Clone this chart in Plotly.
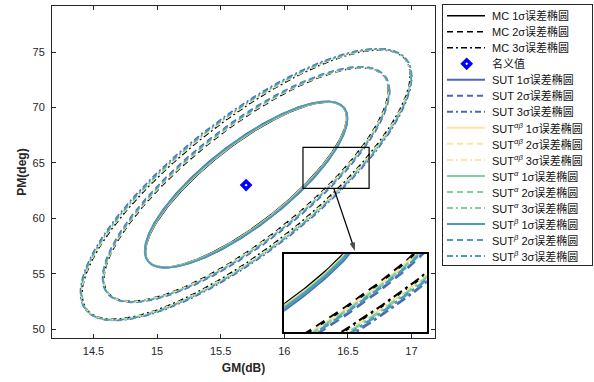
import numpy as np
import plotly.graph_objects as go

# ---------------- data ----------------
nominal_gm = [15.70]
nominal_pm = [63.00]

sigma_levels = [1, 2, 3]
level_scale = [1.0, 1.415, 1.633]      # size of 1σ/2σ/3σ ellipse relative to 1σ
center_gm = 15.70
center_pm = 63.05
half_width_gm = 0.79                    # 1σ half extent along GM
half_height_pm = 7.45                   # 1σ half extent along PM

method_keys = ["MC", "SUT", "SUTab", "SUTa", "SUTb"]
method_size = [1.000, 1.010, 1.0025, 1.005, 1.0075]
method_corr = [0.812, 0.794, 0.807, 0.803, 0.799]
method_colors = ["#000000", "#5066b4", "#fde5a0", "#80d0a2", "#4a9db8"]
method_labels = ["MC", "SUT", "SUT<sup><i>αβ</i></sup>", "SUT<sup><i>α</i></sup>",
                 "SUT<sup><i>β</i></sup>"]
nominal_label = "名义值"

x_ticks = [14.5, 15, 15.5, 16, 16.5, 17]
y_ticks = [50, 55, 60, 65, 70, 75]
x_range = [14.174, 17.185]
y_range = [49.19, 79.18]
zoom_gm = [16.147, 16.667]              # rectangle drawn on the main axes
zoom_pm = [62.70, 66.41]
inset_gm = [16.235, 16.655]             # region shown in the magnified inset
inset_pm = [62.50, 66.60]
arrow_gm = [16.39, 16.556]
arrow_pm = [62.70, 57.05]

# ---------------- styles ----------------
FONT = "Liberation Sans, Arial, Noto Sans CJK SC, sans-serif"
AX = "#262626"
main_dash = ["solid", "6px,4px", "6px,3px,2px,3px"]
inset_dash = ["solid", "10px,6px", "10px,4px,3px,4px"]
main_width = [1.4, 1.6, 1.6, 1.6, 1.6]
inset_width = [3.0, 2.8, 2.8, 2.8, 2.8]

t = np.linspace(0, 2 * np.pi, 721)


def ellipse(level_idx, m_idx):
    k = level_scale[level_idx] * method_size[m_idx]
    r = method_corr[m_idx]
    gx = center_gm + k * half_width_gm * np.cos(t)
    py = center_pm + k * half_height_pm * (r * np.cos(t) + np.sqrt(1 - r * r) * np.sin(t))
    return gx, py


fig = go.Figure()

# main + inset curves
for axes, dashes, widths in (("main", main_dash, main_width), ("inset", inset_dash, inset_width)):
    xa, ya = ("x", "y") if axes == "main" else ("x2", "y2")
    for mi, key in enumerate(method_keys):
        for li, lev in enumerate(sigma_levels):
            gx, py = ellipse(li, mi)
            fig.add_trace(go.Scatter(
                x=gx, y=py, mode="lines", xaxis=xa, yaxis=ya, showlegend=False,
                line=dict(color=method_colors[mi], width=widths[mi], dash=dashes[li]),
                hoverinfo="skip"))
        if key == "MC":
            fig.add_trace(go.Scatter(
                x=nominal_gm, y=nominal_pm, mode="markers", xaxis=xa, yaxis=ya,
                showlegend=False,
                marker=dict(symbol="diamond", size=6, color="white",
                            line=dict(color="#0000ff", width=3.5))))

# arrow from the zoom rectangle to the inset
fig.add_trace(go.Scatter(
    x=arrow_gm, y=arrow_pm, mode="lines+markers", xaxis="x", yaxis="y", showlegend=False,
    line=dict(color="#000000", width=1.2), hoverinfo="skip", cliponaxis=False,
    marker=dict(symbol=["circle", "arrow"], size=[0, 9], angleref="previous",
                color="#000000", line=dict(width=0))))

# ---------------- custom legend (own axes, pixel-like units) ----------------
LEG_W, LEG_H = 149, 260
row0, row_step = 10.7, 16.02
entries = []
for mi, key in enumerate(method_keys):
    for li, lev in enumerate(sigma_levels):
        entries.append(("line", mi, li, f"{method_labels[mi]} {lev}σ误差椭圆"))
    if key == "MC":
        entries.append(("marker", None, None, nominal_label))

annotations = []
for i, (kind, mi, li, text) in enumerate(entries):
    yy = row0 + row_step * i
    if kind == "line":
        fig.add_trace(go.Scatter(
            x=[4, 42], y=[yy, yy], mode="lines", xaxis="x3", yaxis="y3", showlegend=False,
            line=dict(color=method_colors[mi], width=1.5 if mi == 0 else 2.0,
                      dash=main_dash[li]), hoverinfo="skip"))
    else:
        fig.add_trace(go.Scatter(
            x=[23.7], y=[yy], mode="markers", xaxis="x3", yaxis="y3", showlegend=False,
            marker=dict(symbol="diamond", size=6, color="white",
                        line=dict(color="#0000ff", width=3.5)), hoverinfo="skip"))
    annotations.append(dict(x=47, y=yy, xref="x3", yref="y3", text=text, showarrow=False,
                            xanchor="left", yanchor="middle",
                            font=dict(family=FONT, size=11, color="#111111")))

# ---------------- layout ----------------
W, H = 594, 382
ML, MR, MT, MB = 52, 2, 4, 44
PW, PH = W - ML - MR, H - MT - MB


def px_x(a, b):
    return [(a - ML) / PW, (b - ML) / PW]


def px_y(top, bottom):
    return [(H - MB - bottom) / PH, (H - MB - top) / PH]


axis_common = dict(showgrid=False, zeroline=False, showline=True, linecolor=AX, linewidth=1,
                   mirror="ticks", ticks="inside", ticklen=4, tickwidth=1, tickcolor=AX,
                   tickfont=dict(family=FONT, size=11, color=AX))

fig.update_layout(
    width=W, height=H, margin=dict(l=ML, r=MR, t=MT, b=MB),
    paper_bgcolor="white", plot_bgcolor="white", showlegend=False,
    xaxis=dict(domain=px_x(52, 435), range=x_range, tickvals=x_ticks,
               ticktext=[f"{v:g}" for v in x_ticks], ticklabelstandoff=3,
               title=dict(text="<b>GM(dB)</b>", font=dict(family=FONT, size=12, color=AX),
                          standoff=7),
               **axis_common),
    yaxis=dict(domain=px_y(6, 338), range=y_range, tickvals=y_ticks,
               ticktext=[f"{v:g}" for v in y_ticks], ticklabelstandoff=4,
               title=dict(text="<b>PM(deg)</b>", font=dict(family=FONT, size=12, color=AX),
                          standoff=3),
               **axis_common),
    xaxis2=dict(domain=px_x(284.3, 426.7), range=inset_gm, anchor="y2", showgrid=False,
                zeroline=False, showline=True, mirror=True, linecolor="#000000",
                linewidth=1.5, showticklabels=False, ticks=""),
    yaxis2=dict(domain=px_y(254, 332.3), range=inset_pm, anchor="x2", showgrid=False,
                zeroline=False, showline=True, mirror=True, linecolor="#000000",
                linewidth=1.5, showticklabels=False, ticks=""),
    xaxis3=dict(domain=px_x(443, 592), range=[0, LEG_W], anchor="y3", showgrid=False,
                zeroline=False, showline=True, mirror=True, linecolor=AX, linewidth=1,
                showticklabels=False, ticks="", fixedrange=True),
    yaxis3=dict(domain=px_y(5, 265), range=[LEG_H, 0], anchor="x3", showgrid=False,
                zeroline=False, showline=True, mirror=True, linecolor=AX, linewidth=1,
                showticklabels=False, ticks="", fixedrange=True),
    shapes=[dict(type="rect", xref="x", yref="y", x0=zoom_gm[0], x1=zoom_gm[1],
                 y0=zoom_pm[0], y1=zoom_pm[1], line=dict(color="#000000", width=1.2),
                 fillcolor="rgba(0,0,0,0)", layer="above")],
    annotations=annotations,
)

fig.write_html("out.html")
